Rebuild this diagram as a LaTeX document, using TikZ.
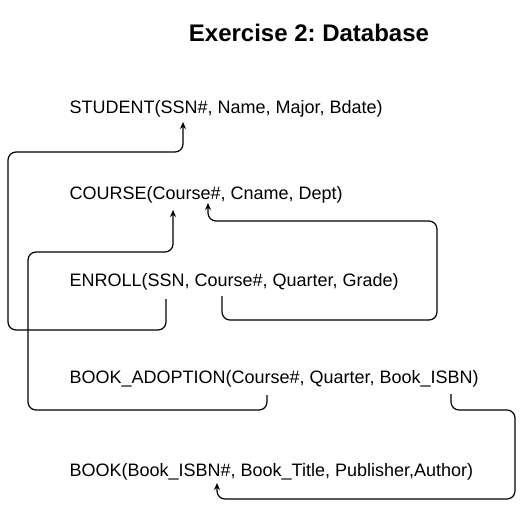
\documentclass[tikz,border=0pt]{standalone}
\usepackage{fontspec}
\setmainfont{Liberation Sans}
\usetikzlibrary{arrows.meta}
\frenchspacing
\begin{document}
\begin{tikzpicture}[x=1pt,y=-1pt, line width=1.2pt,
  rel/.style={anchor=base west, inner sep=0pt, font=\fontsize{18}{20}\selectfont},
  link/.style={rounded corners=8pt, -{Stealth[length=7pt,width=6pt]}}]
\useasboundingbox[fill=white] (0,0) rectangle (526,509);
\node[anchor=base, inner sep=0pt, font=\bfseries\fontsize{24}{28}\selectfont] (title) at (309,41.7) {Exercise 2: Database};
\node[rel] (student) at (69,113) {STUDENT(SSN\#, Name, Major, Bdate)};
\node[rel] (course) at (69,199) {COURSE(Course\#, Cname, Dept)};
\node[rel] (enroll) at (69,286) {ENROLL(SSN, Course\#, Quarter, Grade)};
\node[rel] (adopt) at (69,383) {BOOK\_ADOPTION(Course\#, Quarter, Book\_ISBN)};
\node[rel] (book) at (69,476) {BOOK(Book\_ISBN\#, Book\_Title, Publisher,Author)};
% anchor coordinates
\coordinate (enrollSSN) at (166,299);
\coordinate (studentSSN) at (183,122);
\coordinate (enrollCourse) at (222,296);
\coordinate (courseKeyB) at (208,203);
\coordinate (adoptCourse) at (267,395);
\coordinate (courseKeyA) at (173,210);
\coordinate (adoptISBN) at (451,394);
\coordinate (bookISBN) at (217,483);
\draw[link] (enrollSSN) -- (166,330) -- (8,330) -- (8,152) -- (183,152) -- (studentSSN);
\draw[link] (adoptCourse) -- (267,410) -- (28,410) -- (28,252) -- (173,252) -- (courseKeyA);
\draw[link] (enrollCourse) -- (222,320) -- (437,320) -- (437,221) -- (208,221) -- (courseKeyB);
\draw[link] (adoptISBN) -- (451,410) -- (515,410) -- (515,499) -- (217,499) -- (bookISBN);
\end{tikzpicture}
\end{document}
